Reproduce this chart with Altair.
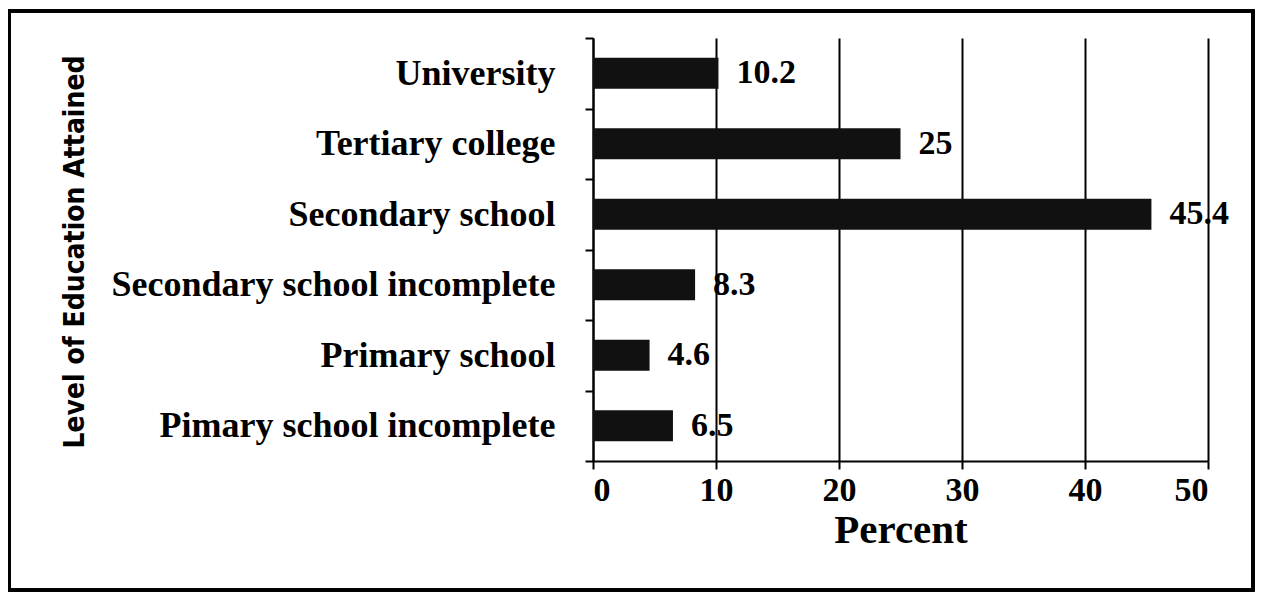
import altair as alt
import pandas as pd

categories = [
    "University",
    "Tertiary college",
    "Secondary school",
    "Secondary school incomplete",
    "Primary school",
    "Pimary school incomplete",
]
percents = [10.2, 25, 45.4, 8.3, 4.6, 6.5]
value_labels = ["10.2", "25", "45.4", "8.3", "4.6", "6.5"]
x_ticks = [0, 10, 20, 30, 40, 50]

df = pd.DataFrame({"level": categories, "pct": percents, "lab": value_labels})

W, H = 615, 423
SERIF = "Liberation Serif"

y_enc = alt.Y(
    "level:N",
    sort=categories,
    scale=alt.Scale(paddingInner=0, paddingOuter=0),
    axis=alt.Axis(
        title="Level of Education Attained",
        titleFont="DejaVu Sans Condensed",
        titleFontSize=28,
        titleFontWeight="bold",
        titleColor="black",
        titleAngle=270,
        titleX=-518,
        titleY=H / 2 + 2,
        titleAlign="center",
        titleBaseline="middle",
        labelFont=SERIF,
        labelFontSize=36,
        labelFontWeight="bold",
        labelColor="black",
        labelPadding=30,
        labelLimit=600,
        tickBand="extent",
        tickSize=8,
        tickWidth=2,
        tickColor="black",
        domainColor="black",
        domainWidth=2,
        grid=False,
    ),
)

x_enc = alt.X(
    "pct:Q",
    scale=alt.Scale(domain=[0, 50], nice=False),
    axis=alt.Axis(
        title="Percent",
        titleFont=SERIF,
        titleFontSize=41,
        titleFontWeight="bold",
        titleColor="black",
        titlePadding=3,
        values=x_ticks,
        labelFont=SERIF,
        labelFontSize=34,
        labelFontWeight="bold",
        labelColor="black",
        labelPadding=4,
        tickSize=8,
        tickWidth=2,
        tickColor="black",
        domainColor="black",
        domainWidth=2,
        grid=True,
        gridColor="black",
        gridWidth=2,
        gridOpacity=1,
    ),
)

bars = alt.Chart(df).mark_bar(color="#111111", size=31).encode(x=x_enc, y=y_enc)

labels = alt.Chart(df).mark_text(
    align="left", baseline="middle", dx=18, font=SERIF, fontSize=34,
    fontWeight="bold", color="black",
).encode(
    x=alt.X("pct:Q"),
    y=alt.Y("level:N", sort=categories),
    text="lab:N",
)

frame = alt.Chart(df).mark_rect(
    fill=None, stroke="black", strokeWidth=3, filled=False
).encode(
    x=alt.value(-584), x2=alt.value(660), y=alt.value(-27), y2=alt.value(552)
)

chart = (
    alt.layer(bars, labels, frame)
    .properties(
        width=W,
        height=H,
        autosize=alt.AutoSizeParams(type="none"),
        padding={"left": 585, "top": 30, "right": 47, "bottom": 131},
        background="white",
    )
    .configure_view(stroke=None)
)

chart.save("out.html", embed_options={"renderer": "svg", "actions": False})
